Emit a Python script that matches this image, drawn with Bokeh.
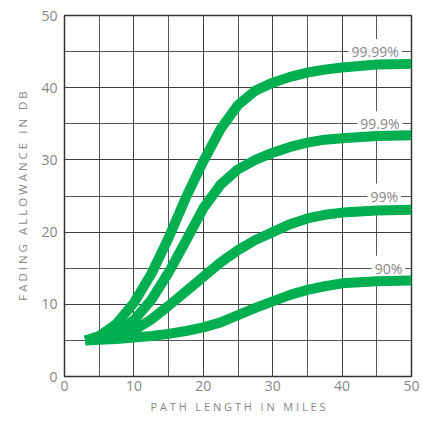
from bokeh.plotting import figure
from bokeh.models import SingleIntervalTicker, Label, Range1d
from bokeh.embed import file_html
from bokeh.resources import INLINE

# Data
x_miles = [3, 5, 7.5, 10, 12.5, 15, 17.5, 20, 22.5, 25, 27.5, 30, 32.5, 35, 37.5, 40, 45, 50]
y_9999 = [5, 5.6, 7.3, 10.2, 14.2, 19.2, 24.8, 29.8, 34.3, 37.6, 39.6, 40.7, 41.5, 42.1, 42.5, 42.8, 43.2, 43.3]
y_999 = [5, 5.4, 6.1, 7.8, 10.6, 14.4, 18.8, 23.3, 26.6, 28.7, 30.0, 31.0, 31.8, 32.4, 32.8, 33.0, 33.3, 33.4]
y_99 = [5, 5.2, 5.6, 6.4, 7.9, 9.8, 11.8, 13.8, 15.8, 17.5, 18.9, 20.0, 21.1, 21.9, 22.4, 22.7, 23.0, 23.1]
y_90 = [5, 5.1, 5.2, 5.4, 5.6, 5.9, 6.3, 6.8, 7.5, 8.5, 9.5, 10.4, 11.3, 12.0, 12.5, 12.9, 13.2, 13.3]
series = [y_9999, y_999, y_99, y_90]
series_labels = ["99.99%", "99.9%", "99%", "90%"]
label_y = [45, 35, 25, 15]
label_x = [48.6, 48.7, 48.5, 49.1]
x_title = "PATH LENGTH IN MILES"
y_title = "FADING ALLOWANCE IN DB"

GREEN = "#00b050"
GRAY = "#878787"
FONT = "Open Sans"
NB = "\u00a0"


def spaced(s, gap=3):
    words = s.split(" ")
    return (NB * gap).join(NB.join(w) for w in words)


p = figure(width=422, height=423,
           x_range=Range1d(0, 50), y_range=Range1d(0, 50),
           output_backend="svg", toolbar_location=None,
           min_border_left=64, min_border_right=11, min_border_top=15, min_border_bottom=47)

p.background_fill_color = "white"
p.border_fill_color = "white"
p.outline_line_color = "#333333"
p.outline_line_width = 1.5

for ax in (p.xaxis[0], p.yaxis[0]):
    ax.ticker = SingleIntervalTicker(interval=10, num_minor_ticks=2)
    ax.major_tick_line_color = None
    ax.minor_tick_line_color = None
    ax.major_tick_out = 0
    ax.major_tick_in = 0
    ax.axis_line_color = "#333333"
    ax.major_label_text_color = GRAY
    ax.major_label_text_font = FONT
    ax.major_label_text_font_size = "14px"
    ax.axis_label_text_color = GRAY
    ax.axis_label_text_font = FONT
    ax.axis_label_text_font_style = "normal"

p.xaxis.axis_label_text_font_size = "11px"
p.yaxis.axis_label_text_font_size = "11.5px"
p.xaxis.major_label_standoff = 0
p.yaxis.major_label_standoff = 3
p.xaxis.axis_label = spaced(x_title)
p.yaxis.axis_label = spaced(y_title, 3)
p.xaxis.axis_label_standoff = 5
p.yaxis.axis_label_standoff = 8

for g in (p.xgrid[0], p.ygrid[0]):
    g.grid_line_color = "#3a3a3a"
    g.grid_line_width = 1
    g.grid_line_alpha = 0.85
    g.minor_grid_line_color = "#3a3a3a"
    g.minor_grid_line_width = 1
    g.minor_grid_line_alpha = 0.85

for lbl, lx, ly in zip(series_labels, label_x, label_y):
    p.add_layout(Label(x=lx, y=ly, text=lbl, text_align="right", text_baseline="middle",
                       text_color=GRAY, text_font=FONT, text_font_size="14px",
                       background_fill_color="white", padding=3, level="underlay"))

for ys in series:
    p.line(x_miles, ys, line_color=GREEN, line_width=10, line_join="round", line_cap="butt")

html = file_html(p, INLINE)
open("out.html", "w").write(html)
